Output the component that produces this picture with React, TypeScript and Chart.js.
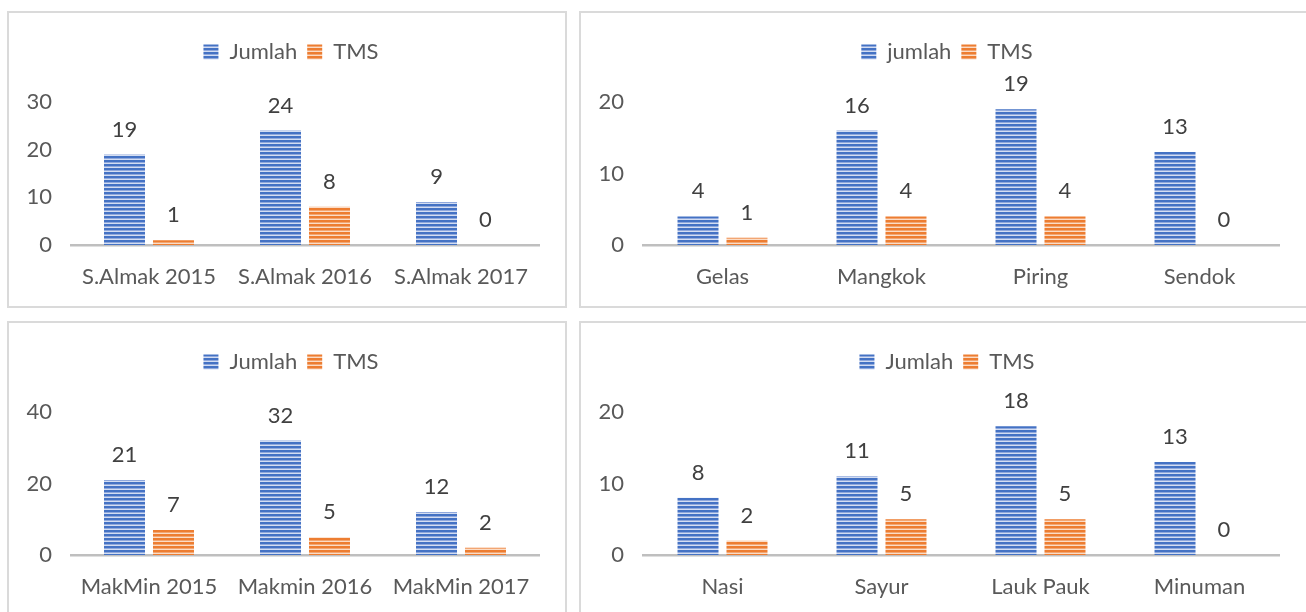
import React, { useEffect, useRef } from "react";
import { Chart, registerables } from "chart.js";
Chart.register(...registerables);

const FONT = "Lato";
const TEXT = "#595959";
const LABEL = "#404040";
const FS = 22;

// Panel 1
const almakCategories = ["S.Almak 2015", "S.Almak 2016", "S.Almak 2017"];
const almakJumlah = [19, 24, 9];
const almakTMS = [1, 8, 0];

// Panel 2
const alatCategories = ["Gelas", "Mangkok", "Piring", "Sendok"];
const alatJumlah = [4, 16, 19, 13];
const alatTMS = [1, 4, 4, 0];

// Panel 3
const makminCategories = ["MakMin 2015", "Makmin 2016", "MakMin 2017"];
const makminJumlah = [21, 32, 12];
const makminTMS = [7, 5, 2];

// Panel 4
const makananCategories = ["Nasi", "Sayur", "Lauk Pauk", "Minuman"];
const makananJumlah = [8, 11, 18, 13];
const makananTMS = [2, 5, 5, 0];

function stripePattern(dark: string, mid: string, light: string) {
  const c = document.createElement("canvas");
  c.width = 4;
  c.height = 4;
  const g = c.getContext("2d")!;
  g.fillStyle = dark;
  g.fillRect(0, 0, 4, 2);
  g.fillStyle = mid;
  g.fillRect(0, 2, 4, 1);
  g.fillStyle = light;
  g.fillRect(0, 3, 4, 1);
  return g.createPattern(c, "repeat")!;
}

const valueLabels = {
  id: "valueLabels",
  afterDatasetsDraw(chart: any) {
    const ctx = chart.ctx;
    ctx.save();
    ctx.font = `${FS}px ${FONT}`;
    ctx.fillStyle = LABEL;
    ctx.textAlign = "center";
    ctx.textBaseline = "middle";
    chart.data.datasets.forEach((ds: any, i: number) => {
      const meta = chart.getDatasetMeta(i);
      meta.data.forEach((bar: any, j: number) => {
        ctx.fillText(String(ds.data[j]), bar.x, bar.y - 25);
      });
    });
    ctx.restore();
  },
};

const legendGap = {
  id: "legendGap",
  beforeInit(chart: any) {
    const legend = chart.legend;
    if (!legend) return;
    const orig = legend.fit;
    legend.fit = function () {
      orig.call(this);
      this.height += 29;
    };
  },
  afterLayout(chart: any) {
    const legend = chart.legend;
    if (!legend) return;
    legend.left = 8;
    legend.right = chart.width;
  },
};

type PanelProps = {
  left: number;
  top: number;
  width: number;
  height: number;
  categories: string[];
  jumlah: number[];
  tms: number[];
  jumlahLabel: string;
  max: number;
  step: number;
  catPct: number;
};

function BarPanel(p: PanelProps) {
  const ref = useRef<HTMLCanvasElement>(null);
  useEffect(() => {
    if (!ref.current) return;
    const blue = stripePattern("#4472C4", "#8fa8dc", "#d3ddf2");
    const orange = stripePattern("#ED7D31", "#f2a673", "#fbdcc6");
    const chart = new Chart(ref.current, {
      type: "bar",
      data: {
        labels: p.categories,
        datasets: [
          {
            label: p.jumlahLabel,
            data: p.jumlah,
            backgroundColor: blue as any,
            borderWidth: 0,
            categoryPercentage: p.catPct,
            barPercentage: 0.837,
          },
          {
            label: "TMS",
            data: p.tms,
            backgroundColor: orange as any,
            borderWidth: 0,
            categoryPercentage: p.catPct,
            barPercentage: 0.837,
          },
        ],
      },
      options: {
        responsive: false,
        animation: false,
        layout: { padding: { top: 19, right: 27, left: 0, bottom: 0 } },
        plugins: {
          legend: {
            position: "top",
            labels: {
              boxWidth: 15,
              boxHeight: 15,
              color: TEXT,
              font: { size: FS, family: FONT },
              padding: 10,
            },
          },
          tooltip: { enabled: false },
        },
        scales: {
          x: {
            grid: { display: false, drawTicks: false },
            border: { display: true, color: "#bfbfbf", width: 2.5 },
            ticks: { color: TEXT, font: { size: FS, family: FONT }, padding: 19, maxRotation: 0 },
            afterFit: (s: any) => {
              s.height = 62;
            },
          },
          y: {
            min: 0,
            max: p.max,
            grid: { display: false, drawTicks: false },
            border: { display: false },
            ticks: { stepSize: p.step, color: TEXT, font: { size: FS, family: FONT }, padding: 19 },
            afterFit: (s: any) => {
              s.width = 63;
            },
          },
        },
      },
      plugins: [legendGap, valueLabels],
    });
    return () => chart.destroy();
  }, []);
  return (
    <canvas
      ref={ref}
      width={p.width}
      height={p.height}
      style={{ position: "absolute", left: p.left, top: p.top, width: p.width, height: p.height }}
    />
  );
}

function Frame({ left, top, width, height }: { left: number; top: number; width: number; height: number }) {
  return (
    <div
      style={{
        position: "absolute",
        left,
        top,
        width,
        height,
        border: "2px solid #dadada",
        boxSizing: "border-box",
      }}
    />
  );
}

export default function App() {
  return (
    <div
      style={{
        position: "fixed",
        left: 0,
        top: 0,
        width: 1306,
        height: 612,
        overflow: "hidden",
        background: "#ffffff",
      }}
    >
      <Frame left={7} top={11} width={560} height={297} />
      <Frame left={579} top={11} width={740} height={297} />
      <Frame left={7} top={321} width={560} height={300} />
      <Frame left={579} top={321} width={740} height={300} />
      <BarPanel left={8} top={12} width={558} height={295} categories={almakCategories} jumlah={almakJumlah} tms={almakTMS} jumlahLabel="Jumlah" max={30} step={10} catPct={0.628} />
      <BarPanel left={580} top={12} width={726} height={295} categories={alatCategories} jumlah={alatJumlah} tms={alatTMS} jumlahLabel="jumlah" max={20} step={10} catPct={0.616} />
      <BarPanel left={8} top={322} width={558} height={295} categories={makminCategories} jumlah={makminJumlah} tms={makminTMS} jumlahLabel="Jumlah" max={40} step={20} catPct={0.628} />
      <BarPanel left={580} top={322} width={726} height={295} categories={makananCategories} jumlah={makananJumlah} tms={makananTMS} jumlahLabel="Jumlah" max={20} step={10} catPct={0.616} />
    </div>
  );
}
